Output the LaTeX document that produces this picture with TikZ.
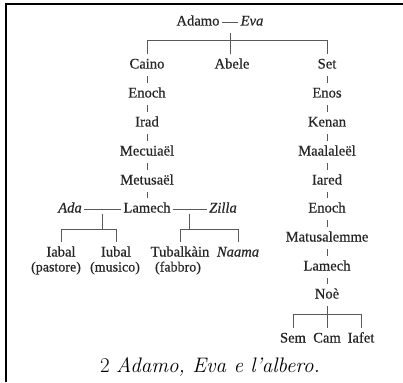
\documentclass[tikz,border=0pt]{standalone}
\usepackage{fontspec}
\newfontfamily\treefont[FakeBold=0.6]{Liberation Serif}
\usetikzlibrary{calc}
\begin{document}
\begin{tikzpicture}[x=1pt,y=-1pt,
  nm/.style={font=\treefont\fontsize{14.6}{16}\selectfont, text=black!85, inner sep=2pt, text height=10pt, text depth=3pt},
  it/.style={nm, font=\treefont\itshape\fontsize{14.6}{16}\selectfont},
  oc/.style={nm, font=\treefont\fontsize{14}{16}\selectfont, inner sep=1pt},
  ln/.style={draw=black!65, line width=0.9pt},
  tk/.style={ln, shorten >=2.5pt, shorten <=2.5pt}]
\useasboundingbox (0,0) rectangle (403,382);
\draw[line width=2pt] (5.5,382) -- (5.5,4.5) -- (403,4.5);
% top couple
\node[nm] (adamo) at (198,22) {Adamo};
\node[it] (eva) at (252,22) {Eva};
\draw[ln] (adamo) -- (eva);
\coordinate (ae) at ($(adamo.east)!0.5!(eva.west)$);
% first generation
\node[nm] (caino) at (147,65) {Caino};
\node[nm] (abele) at (232,65) {Abele};
\node[nm] (set) at (327,65) {Set};
\coordinate (bar) at (0,40);
\draw[ln] (caino |- bar) -- (set |- bar);
\draw[ln, shorten >=2.5pt] ($(ae |- abele.north)+(0,-23)$) -- (ae |- abele.north);
\draw[ln, shorten >=2.5pt] (caino |- bar) -- (caino.north);
\draw[ln, shorten >=2.5pt] (set |- bar) -- (set.north);
% Cain line
\node[nm] (enochL) at (147,94) {Enoch};
\node[nm] (irad) at (147,123) {Irad};
\node[nm] (mecuiael) at (147,152) {Mecuiaël};
\node[nm] (metusael) at (147,181) {Metusaël};
\node[nm] (lamechL) at (147,209) {Lamech};
\node[it] (ada) at (70,209) {Ada};
\node[it] (zilla) at (223,209) {Zilla};
\draw[tk] (caino) -- (enochL);
\draw[tk] (enochL) -- (irad);
\draw[tk] (irad) -- (mecuiael);
\draw[tk] (mecuiael) -- (metusael);
\draw[tk] (metusael) -- (lamechL);
\draw[ln] (ada) -- (lamechL);
\draw[ln] (lamechL) -- (zilla);
\coordinate (al) at ($(ada.east)!0.5!(lamechL.west)$);
\coordinate (lz) at ($(lamechL.east)!0.5!(zilla.west)$);
% children of Lamech
\node[nm] (iabal) at (61,253) {Iabal};
\node[nm] (iubal) at (116,253) {Iubal};
\node[nm] (tubal) at (180,253) {Tubalkàin};
\node[it] (naama) at (238,253) {Naama};
\node[oc] (pastore) at (56,268) {(pastore)};
\node[oc] (musico) at (115,268) {(musico)};
\node[oc] (fabbro) at (178,268) {(fabbro)};
\coordinate (br1) at (0,229);
\draw[ln] ($(al)+(0,5)$) -- (al |- br1);
\draw[ln] (iabal |- br1) -- (iubal |- br1);
\draw[ln, shorten >=2.5pt] (iabal |- br1) -- (iabal.north);
\draw[ln, shorten >=2.5pt] (iubal |- br1) -- (iubal.north);
\draw[ln] ($(lz)+(0,5)$) -- (lz |- br1);
\draw[ln] (tubal |- br1) -- (naama |- br1);
\draw[ln, shorten >=2.5pt] (tubal |- br1) -- (tubal.north);
\draw[ln, shorten >=2.5pt] (naama |- br1) -- (naama.north);
% Set line
\node[nm] (enos) at (327,94) {Enos};
\node[nm] (kenan) at (327,123) {Kenan};
\node[nm] (maalaleel) at (327,152) {Maalaleël};
\node[nm] (iared) at (327,181) {Iared};
\node[nm] (enochR) at (327,209) {Enoch};
\node[nm] (matus) at (327,238) {Matusalemme};
\node[nm] (lamechR) at (327,267) {Lamech};
\node[nm] (noe) at (327,295) {Noè};
\draw[tk] (set) -- (enos);
\draw[tk] (enos) -- (kenan);
\draw[tk] (kenan) -- (maalaleel);
\draw[tk] (maalaleel) -- (iared);
\draw[tk] (iared) -- (enochR);
\draw[tk] (enochR) -- (matus);
\draw[tk] (matus) -- (lamechR);
\draw[tk] (lamechR) -- (noe);
\node[nm] (sem) at (293,339) {Sem};
\node[nm] (cam) at (327,339) {Cam};
\node[nm] (iafet) at (361,339) {Iafet};
\coordinate (br2) at (0,314);
\draw[ln, shorten <=2.5pt] (noe.south) -- (noe |- br2);
\draw[ln] (sem |- br2) -- (iafet |- br2);
\draw[ln, shorten >=2.5pt] (sem |- br2) -- (sem.north);
\draw[ln, shorten >=2.5pt] (cam |- br2) -- (cam.north);
\draw[ln, shorten >=2.5pt] (iafet |- br2) -- (iafet.north);
% caption
\node (caption) at (210,367) {\fontsize{21}{24}\selectfont 2 \textit{Adamo, Eva e l'albero.}};
\end{tikzpicture}
\end{document}
